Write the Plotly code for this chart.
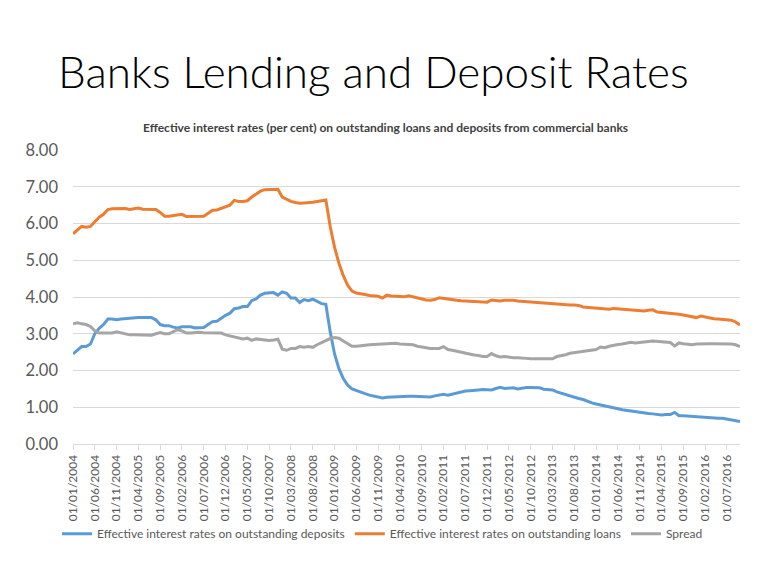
import plotly.graph_objects as go

# monthly observations, Jan 2004 .. Oct 2016
years = list(range(2004, 2017))
months = [f"01/{m:02d}/{y}" for y in years for m in range(1, 13)][:154]

deposits = [
    2.45, 2.55, 2.65, 2.65, 2.72, 3.00, 3.15, 3.25, 3.40, 3.40,
    3.38, 3.40, 3.41, 3.44, 3.44, 3.44, 3.44, 3.44, 3.44, 3.38,
    3.25, 3.22, 3.22, 3.18, 3.16, 3.19, 3.20, 3.19, 3.16, 3.16,
    3.17, 3.25, 3.33, 3.34, 3.43, 3.50, 3.56, 3.68, 3.70, 3.74,
    3.74, 3.90, 3.95, 4.05, 4.10, 4.12, 4.12, 4.05, 4.14, 4.10,
    3.97, 3.97, 3.85, 3.93, 3.90, 3.94, 3.88, 3.82, 3.80, 3.05,
    2.45, 2.05, 1.78, 1.60, 1.50, 1.45, 1.40, 1.37, 1.33, 1.31,
    1.28, 1.25, 1.27, 1.28, 1.28, 1.29, 1.30, 1.30, 1.30, 1.30,
    1.29, 1.28, 1.28, 1.31, 1.33, 1.35, 1.33, 1.36, 1.39, 1.42,
    1.44, 1.45, 1.45, 1.47, 1.48, 1.48, 1.47, 1.51, 1.54, 1.51,
    1.52, 1.53, 1.50, 1.53, 1.54, 1.54, 1.54, 1.53, 1.49, 1.48,
    1.47, 1.42, 1.38, 1.35, 1.31, 1.27, 1.24, 1.21, 1.16, 1.12,
    1.09, 1.06, 1.04, 1.01, 0.99, 0.96, 0.93, 0.91, 0.90, 0.89,
    0.87, 0.84, 0.83, 0.82, 0.80, 0.79, 0.80, 0.80, 0.86, 0.77,
    0.77, 0.76, 0.75, 0.74, 0.74, 0.73, 0.72, 0.71, 0.70, 0.70,
    0.68, 0.65, 0.63, 0.61,
]

loans = [
    5.72, 5.82, 5.92, 5.90, 5.92, 6.05, 6.17, 6.25, 6.38, 6.40,
    6.40, 6.42, 6.41, 6.38, 6.40, 6.42, 6.39, 6.39, 6.39, 6.38,
    6.30, 6.20, 6.20, 6.22, 6.25, 6.25, 6.19, 6.19, 6.19, 6.19,
    6.20, 6.28, 6.36, 6.37, 6.42, 6.47, 6.50, 6.63, 6.60, 6.60,
    6.62, 6.72, 6.80, 6.88, 6.92, 6.93, 6.94, 6.93, 6.72, 6.65,
    6.60, 6.57, 6.55, 6.56, 6.56, 6.58, 6.60, 6.62, 6.64, 5.92,
    5.35, 4.92, 4.58, 4.32, 4.16, 4.11, 4.10, 4.07, 4.04, 4.03,
    4.02, 3.97, 4.05, 4.03, 4.02, 4.02, 4.01, 4.03, 4.00, 3.96,
    3.93, 3.92, 3.91, 3.93, 3.98, 3.96, 3.93, 3.92, 3.91, 3.90,
    3.89, 3.88, 3.88, 3.88, 3.87, 3.86, 3.92, 3.90, 3.89, 3.91,
    3.92, 3.91, 3.89, 3.88, 3.87, 3.85, 3.84, 3.83, 3.83, 3.82,
    3.80, 3.79, 3.78, 3.78, 3.78, 3.78, 3.77, 3.73, 3.72, 3.72,
    3.72, 3.71, 3.69, 3.67, 3.69, 3.68, 3.67, 3.67, 3.66, 3.65,
    3.64, 3.62, 3.64, 3.65, 3.59, 3.58, 3.58, 3.56, 3.54, 3.53,
    3.51, 3.49, 3.48, 3.44, 3.48, 3.45, 3.43, 3.41, 3.40, 3.39,
    3.39, 3.37, 3.32, 3.24,
]

spread = [
    3.27, 3.30, 3.27, 3.25, 3.20, 3.08, 3.02, 3.02, 3.02, 3.02,
    3.05, 3.02, 3.00, 2.97, 2.97, 2.97, 2.95, 2.96, 2.96, 3.00,
    3.03, 3.00, 3.00, 3.06, 3.11, 3.08, 3.02, 3.02, 3.04, 3.04,
    3.03, 3.03, 3.03, 3.03, 3.02, 2.97, 2.94, 2.93, 2.90, 2.86,
    2.88, 2.82, 2.86, 2.84, 2.82, 2.82, 2.83, 2.85, 2.58, 2.55,
    2.60, 2.60, 2.65, 2.63, 2.65, 2.63, 2.70, 2.76, 2.82, 2.87,
    2.90, 2.88, 2.80, 2.72, 2.66, 2.66, 2.68, 2.69, 2.70, 2.71,
    2.72, 2.72, 2.72, 2.75, 2.74, 2.72, 2.72, 2.72, 2.70, 2.66,
    2.64, 2.61, 2.60, 2.60, 2.60, 2.65, 2.57, 2.55, 2.52, 2.50,
    2.47, 2.43, 2.42, 2.41, 2.38, 2.38, 2.46, 2.40, 2.37, 2.38,
    2.36, 2.35, 2.35, 2.33, 2.33, 2.32, 2.32, 2.32, 2.33, 2.33,
    2.32, 2.38, 2.40, 2.43, 2.47, 2.49, 2.50, 2.52, 2.53, 2.55,
    2.57, 2.64, 2.62, 2.66, 2.69, 2.71, 2.72, 2.74, 2.77, 2.75,
    2.77, 2.78, 2.79, 2.80, 2.79, 2.78, 2.76, 2.76, 2.67, 2.75,
    2.73, 2.72, 2.70, 2.72, 2.73, 2.73, 2.73, 2.73, 2.73, 2.73,
    2.72, 2.72, 2.70, 2.65,
]

yticks = [0, 1, 2, 3, 4, 5, 6, 7, 8]

series = [
    ("Effective interest rates on outstanding deposits", deposits, "#5B9BD5"),
    ("Effective interest rates on outstanding loans", loans, "#ED7D31"),
    ("Spread", spread, "#A5A5A5"),
]

fig = go.Figure()
for name, vals, col in series:
    fig.add_trace(go.Scatter(x=months, y=vals, name=name, mode="lines",
                             line=dict(color=col, width=3)))

fig.update_layout(
    width=774, height=565,
    margin=dict(l=73, r=34, t=150, b=121),
    paper_bgcolor="white", plot_bgcolor="white",
    font=dict(family="Lato", color="#595959"),
    title=dict(text="Banks Lending and Deposit Rates", x=0.075, xanchor="left",
               y=0.871, yanchor="middle",
               font=dict(family="Lato", size=44, color="black", weight=300)),
    showlegend=True,
    legend=dict(orientation="h", x=-0.024, xanchor="left", y=-0.305, yanchor="middle",
                bgcolor="rgba(0,0,0,0)", tracegroupgap=0,
                font=dict(size=12, color="#595959"), itemwidth=30),
    annotations=[dict(
        text="<b>Effective interest rates (per cent) on outstanding loans and deposits from commercial banks</b>",
        xref="paper", yref="paper", x=0.469, y=1.078, xanchor="center", yanchor="middle",
        showarrow=False, font=dict(size=12, color="#404040"))],
)

fig.update_xaxes(type="category", range=[0, len(months) - 1],
                 tickmode="array", tickvals=months[::5], ticktext=months[::5],
                 tickangle=-90, tickfont=dict(size=12, color="#595959"),
                 showgrid=False, showline=True, linecolor="#D9D9D9", linewidth=1,
                 ticks="outside", ticklen=5, tickcolor="#D9D9D9")
fig.update_yaxes(range=[0, 8], tickvals=yticks, tickformat=".2f",
                 tickfont=dict(size=16.5, color="#595959"),
                 showgrid=True, gridcolor="#D9D9D9", gridwidth=1,
                 zeroline=False, ticks="", ticklabelstandoff=14)

# page body has a default 8px margin; drop it so the figure sits at the corner
fig.write_html("out.html", config={"displayModeBar": False},
               post_script="document.body.style.margin='0';")
